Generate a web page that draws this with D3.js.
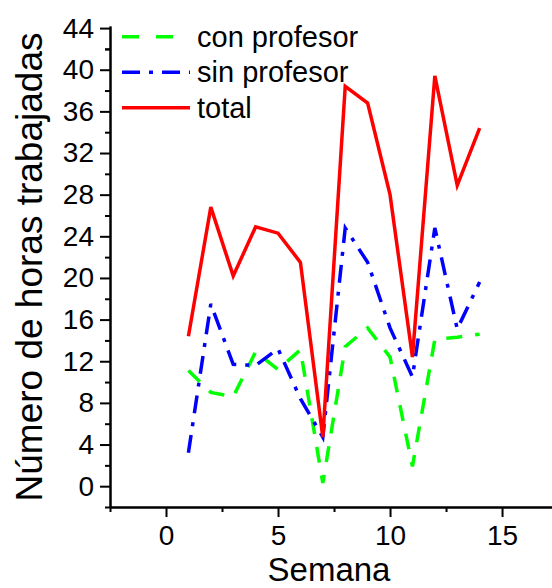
<!DOCTYPE html>
<html>
<head>
<meta charset="utf-8">
<script src="https://cdn.jsdelivr.net/npm/d3@7"></script>
<style>
  body { margin: 0; background: #fff; }
  text { font-family: Arial, "Liberation Sans", sans-serif; fill: #000; }
</style>
</head>
<body>
<div id="chart"></div>
<script>
// data
var weeks = [1, 2, 3, 4, 5, 6, 7, 8, 9, 10, 11, 12, 13, 14];
var conProfesor = [11.1, 9.0, 8.6, 12.9, 11.2, 13.1, 0.3, 13.4, 15.2, 12.4, 1.9, 14.1, 14.3, 14.6];
var sinProfesor = [3.2, 17.5, 11.7, 11.6, 13.2, 8.4, 4.7, 24.8, 21.5, 15.2, 10.5, 24.8, 15.1, 19.6];
var total = [14.4, 26.8, 20.2, 24.9, 24.3, 21.5, 4.7, 38.4, 36.8, 28.0, 12.4, 39.4, 28.9, 34.4];

var seriesNames = ["con profesor", "sin profesor", "total"];
var yTicks = [0, 4, 8, 12, 16, 20, 24, 28, 32, 36, 40, 44];
var xTicks = [0, 5, 10, 15];

var width = 552, height = 588;

// Set the ranges
var x = d3.scaleLinear().domain([-2.5, 17.23]).range([110, 552]);
var y = d3.scaleLinear().domain([-2, 44.2]).range([507, 26]);

var svg = d3.select("#chart")
    .append("svg")
        .attr("width", width)
        .attr("height", height);

// axes: major + minor ticks
var yAxis = d3.axisLeft(y).tickValues(yTicks).tickSize(10).tickSizeOuter(0).tickPadding(6);
var yMinor = d3.axisLeft(y).tickValues(d3.range(-2, 44, 4).concat([42])).tickSize(5).tickSizeOuter(0).tickFormat("");
var xAxis = d3.axisBottom(x).tickValues(xTicks).tickSize(10).tickSizeOuter(0).tickPadding(8);
var xMinor = d3.axisBottom(x).tickValues([-2.5, 2.5, 7.5, 12.5]).tickSize(5).tickSizeOuter(0).tickFormat("");

svg.append("g").attr("transform", "translate(110,0)").call(yMinor);
svg.append("g").attr("class", "yaxis").attr("transform", "translate(110,0)").call(yAxis);
svg.append("g").attr("transform", "translate(0,507)").call(xMinor);
svg.append("g").attr("class", "xaxis").attr("transform", "translate(0,507)").call(xAxis);

svg.selectAll(".domain").attr("stroke", "#000").attr("stroke-width", 2);
svg.selectAll(".tick line").attr("stroke", "#000").attr("stroke-width", 2);
svg.selectAll(".tick text")
    .style("font-family", "Arial, 'Liberation Sans', sans-serif")
    .style("font-size", "28px")
    .attr("fill", "#000");

// axis titles
svg.append("text")
    .attr("x", 329)
    .attr("y", 581)
    .attr("text-anchor", "middle")
    .style("font-size", "33px")
    .text("Semana");

svg.append("text")
    .attr("transform", "translate(42,267) rotate(-90)")
    .attr("text-anchor", "middle")
    .style("font-size", "37px")
    .text("Número de horas trabajadas");

// lines
var styles = [
    {color: "#00ff00", dash: "16,13", data: conProfesor},
    {color: "#0000ff", dash: "18,9,4,9", data: sinProfesor},
    {color: "#ff0000", dash: null, data: total}
];

var line = d3.line()
    .x(function(d, i) { return x(weeks[i]); })
    .y(function(d) { return y(d); });

styles.forEach(function(s) {
    svg.append("path")
        .datum(s.data)
        .attr("d", line)
        .attr("fill", "none")
        .attr("stroke", s.color)
        .attr("stroke-width", 3.5)
        .attr("stroke-dasharray", s.dash);
});

// legend
var legend = svg.append("g");
seriesNames.forEach(function(name, i) {
    var ly = 36.7 + i * 35.5;
    legend.append("line")
        .attr("x1", 122).attr("x2", 190)
        .attr("y1", ly).attr("y2", ly)
        .attr("stroke", styles[i].color)
        .attr("stroke-width", 3.5)
        .attr("stroke-dasharray", i == 0 ? "17,17" : styles[i].dash);
    legend.append("text")
        .attr("x", 197)
        .attr("y", ly + 10)
        .style("font-size", "29px")
        .text(name);
});
</script>
</body>
</html>
